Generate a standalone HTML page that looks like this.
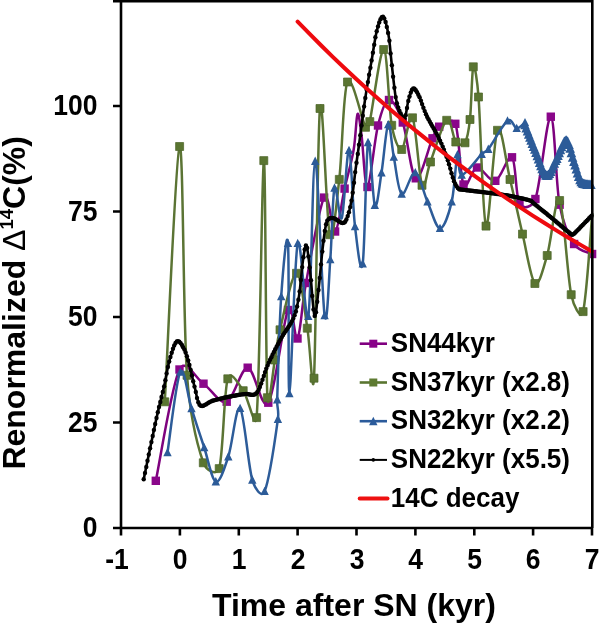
<!DOCTYPE html>
<html><head><meta charset="utf-8"><style>
html,body{margin:0;padding:0;background:#fff;width:600px;height:624px;overflow:hidden}
svg{display:block;filter:blur(0.35px)}
text{font-family:"Liberation Sans",sans-serif;font-weight:bold;fill:#000}
</style></head><body>
<svg width="600" height="624" viewBox="0 0 600 624">
<!-- y tick labels -->
<g font-size="26.5" text-anchor="end">
<text transform="translate(97.5,115) scale(1,1.09)">100</text>
<text transform="translate(97.5,220.5) scale(1,1.09)">75</text>
<text transform="translate(97.5,326) scale(1,1.09)">50</text>
<text transform="translate(97.5,431.5) scale(1,1.09)">25</text>
<text transform="translate(97.5,537) scale(1,1.09)">0</text>
</g>
<!-- x tick labels -->
<g font-size="26.5" text-anchor="middle">
<text transform="translate(117,569) scale(1,1.09)">-1</text>
<text transform="translate(180,569) scale(1,1.09)">0</text>
<text transform="translate(239,569) scale(1,1.09)">1</text>
<text transform="translate(298,569) scale(1,1.09)">2</text>
<text transform="translate(357,569) scale(1,1.09)">3</text>
<text transform="translate(415.5,569) scale(1,1.09)">4</text>
<text transform="translate(474.5,569) scale(1,1.09)">5</text>
<text transform="translate(533,569) scale(1,1.09)">6</text>
<text transform="translate(592,569) scale(1,1.09)">7</text>
</g>
<text x="212" y="616" font-size="32">Time after SN (kyr)</text>
<text transform="translate(25.2,469.6) rotate(-90)" font-size="32">Renormalized <tspan font-weight="normal">&#916;</tspan><tspan font-size="18.5" dy="-12">14</tspan><tspan dy="12">C(%)</tspan></text>

<!-- DATA -->
<g id="data" fill="none" stroke-linejoin="round">
<path stroke="#7e027e" stroke-width="2.5" d="M155.8,480.8 C159.8,462.2 171.6,385.7 179.5,369.5 C185.6,357.0 195.6,378.3 203.5,383.7 C211.4,389.1 219.3,404.4 226.7,401.7 C234.1,399.0 240.8,367.5 247.7,367.7 C254.6,367.9 261.6,412.3 268.3,402.7 C275.0,393.1 283.1,320.7 288.0,310.0 C292.9,299.3 294.5,343.0 297.5,338.5 C300.5,334.0 301.6,306.5 306.0,283.0 C310.4,259.5 319.2,206.2 324.1,197.6 C329.0,189.0 331.7,233.0 335.1,231.5 C338.5,230.0 341.5,202.2 344.6,188.6 C347.7,175.0 351.5,162.4 353.6,150.0 C355.8,137.6 356.2,116.5 357.5,114.0 C358.8,111.5 360.0,124.4 361.5,135.0 C363.2,147.2 364.8,188.6 367.5,187.0 C370.2,185.4 374.4,140.0 378.0,125.5 C381.3,112.0 384.9,100.5 389.0,100.0 C393.1,99.5 398.5,110.0 402.8,122.5 C407.3,135.6 410.9,175.7 415.8,178.3 C420.8,180.9 428.6,146.9 432.5,138.3 C435.3,132.2 435.4,129.1 439.2,126.7 C443.0,124.3 452.1,116.3 455.3,123.8 C459.4,133.4 459.9,177.2 463.5,184.5 C467.1,191.8 471.7,168.1 477.0,167.5 C482.3,166.9 489.5,182.5 495.3,180.8 C501.1,179.1 508.0,153.5 512.0,157.3 C516.0,161.1 515.6,196.6 519.5,203.5 C523.4,210.4 532.6,206.8 535.4,199.0 C540.6,184.5 546.8,115.8 550.8,116.7 C554.8,117.7 555.7,183.5 559.6,204.7 C563.4,225.3 568.7,235.8 574.1,244.0 C579.5,252.2 589.1,252.3 592.1,254.0"/>
<g fill="#8a068a" stroke="none"><rect x="151.6" y="476.6" width="8.4" height="8.4"/><rect x="175.3" y="365.3" width="8.4" height="8.4"/><rect x="199.3" y="379.5" width="8.4" height="8.4"/><rect x="222.5" y="397.5" width="8.4" height="8.4"/><rect x="243.5" y="363.5" width="8.4" height="8.4"/><rect x="264.1" y="398.5" width="8.4" height="8.4"/><rect x="283.8" y="305.8" width="8.4" height="8.4"/><rect x="293.3" y="334.3" width="8.4" height="8.4"/><rect x="301.8" y="278.8" width="8.4" height="8.4"/><rect x="319.9" y="193.4" width="8.4" height="8.4"/><rect x="330.9" y="227.3" width="8.4" height="8.4"/><rect x="340.4" y="184.4" width="8.4" height="8.4"/><rect x="363.3" y="182.8" width="8.4" height="8.4"/><rect x="373.8" y="121.3" width="8.4" height="8.4"/><rect x="384.8" y="95.8" width="8.4" height="8.4"/><rect x="398.6" y="118.3" width="8.4" height="8.4"/><rect x="411.6" y="174.1" width="8.4" height="8.4"/><rect x="428.3" y="134.1" width="8.4" height="8.4"/><rect x="435.0" y="122.5" width="8.4" height="8.4"/><rect x="451.1" y="119.6" width="8.4" height="8.4"/><rect x="459.3" y="180.3" width="8.4" height="8.4"/><rect x="472.8" y="163.3" width="8.4" height="8.4"/><rect x="491.1" y="176.6" width="8.4" height="8.4"/><rect x="507.8" y="153.1" width="8.4" height="8.4"/><rect x="515.3" y="199.3" width="8.4" height="8.4"/><rect x="531.2" y="194.8" width="8.4" height="8.4"/><rect x="546.6" y="112.5" width="8.4" height="8.4"/><rect x="555.4" y="200.5" width="8.4" height="8.4"/><rect x="569.9" y="239.8" width="8.4" height="8.4"/><rect x="587.9" y="249.8" width="8.4" height="8.4"/></g>
<path stroke="#5b7434" stroke-width="2.5" d="M164.8,401.5 C167.3,358.9 175.9,150.6 179.6,146.2 C183.3,141.8 183.1,322.3 187.0,375.0 C190.3,419.4 197.9,446.9 203.3,462.5 C206.1,470.5 216.8,476.4 219.2,468.3 C223.3,454.3 223.8,391.5 227.8,378.5 C230.7,369.2 238.4,383.9 243.2,390.4 C248.0,396.9 255.3,432.3 256.6,417.3 C260.0,379.0 262.0,163.6 263.8,160.3 C265.6,157.0 265.6,364.2 267.4,397.4 C268.5,416.6 272.8,371.0 274.9,359.7 C277.0,348.4 276.4,343.9 280.0,329.5 C283.6,315.1 291.9,273.3 296.5,273.0 C301.1,272.7 304.4,310.4 307.3,327.9 C310.2,345.4 312.5,403.1 314.0,377.9 C316.1,341.3 317.4,132.1 320.0,108.2 C322.6,84.3 326.5,222.6 329.7,234.4 C332.9,246.2 336.3,204.5 339.3,179.1 C342.3,153.7 343.1,90.4 347.5,81.7 C351.9,73.0 361.8,120.4 365.5,127.0 C367.3,130.1 369.0,124.8 369.8,121.3 C372.8,108.3 380.1,48.6 383.7,49.2 C387.3,49.8 388.7,108.3 391.7,125.0 C394.0,137.9 398.2,150.4 401.7,149.2 C405.2,147.9 409.1,111.5 412.5,117.5 C415.9,123.5 419.0,177.6 422.0,185.0 C425.0,192.4 426.4,172.5 430.5,161.7 C434.6,150.9 442.5,123.3 446.7,120.0 C450.9,116.7 452.8,137.9 455.8,141.7 C458.7,145.3 462.6,146.2 465.0,142.5 C467.4,138.8 468.7,131.0 470.0,119.2 C471.4,106.5 471.9,70.2 473.3,66.5 C474.7,62.8 477.3,81.4 478.5,96.7 C480.6,123.2 482.8,220.2 486.0,225.8 C489.2,231.4 493.5,137.8 497.5,130.0 C501.5,122.2 505.8,161.9 510.0,179.2 C514.2,196.5 518.4,216.5 522.5,233.8 C526.6,251.1 530.8,279.6 534.9,283.2 C539.0,286.8 543.1,269.0 547.2,255.2 C551.3,241.4 555.6,193.7 559.6,200.2 C563.6,206.7 567.3,275.9 571.2,294.4 C573.3,304.5 580.5,321.3 583.1,311.3 C586.6,297.7 590.8,229.4 592.3,213.0"/>
<g fill="#5a7531" stroke="#4e6629" stroke-width="0.7"><rect x="160.8" y="397.8" width="8.0" height="8.0"/><rect x="175.6" y="142.5" width="8.0" height="8.0"/><rect x="183.0" y="371.3" width="8.0" height="8.0"/><rect x="199.3" y="458.8" width="8.0" height="8.0"/><rect x="215.2" y="464.6" width="8.0" height="8.0"/><rect x="223.8" y="374.8" width="8.0" height="8.0"/><rect x="239.2" y="386.7" width="8.0" height="8.0"/><rect x="252.6" y="413.6" width="8.0" height="8.0"/><rect x="259.8" y="156.6" width="8.0" height="8.0"/><rect x="263.4" y="393.7" width="8.0" height="8.0"/><rect x="270.9" y="356.0" width="8.0" height="8.0"/><rect x="276.0" y="325.8" width="8.0" height="8.0"/><rect x="292.5" y="269.3" width="8.0" height="8.0"/><rect x="303.3" y="324.2" width="8.0" height="8.0"/><rect x="310.0" y="374.2" width="8.0" height="8.0"/><rect x="316.0" y="104.5" width="8.0" height="8.0"/><rect x="325.7" y="230.7" width="8.0" height="8.0"/><rect x="335.3" y="175.4" width="8.0" height="8.0"/><rect x="343.5" y="78.0" width="8.0" height="8.0"/><rect x="361.5" y="123.3" width="8.0" height="8.0"/><rect x="365.8" y="117.6" width="8.0" height="8.0"/><rect x="379.7" y="45.5" width="8.0" height="8.0"/><rect x="387.7" y="121.3" width="8.0" height="8.0"/><rect x="397.7" y="145.5" width="8.0" height="8.0"/><rect x="408.5" y="113.8" width="8.0" height="8.0"/><rect x="418.0" y="181.3" width="8.0" height="8.0"/><rect x="426.5" y="158.0" width="8.0" height="8.0"/><rect x="442.7" y="116.3" width="8.0" height="8.0"/><rect x="451.8" y="138.0" width="8.0" height="8.0"/><rect x="461.0" y="138.8" width="8.0" height="8.0"/><rect x="466.0" y="115.5" width="8.0" height="8.0"/><rect x="469.3" y="62.8" width="8.0" height="8.0"/><rect x="474.5" y="93.0" width="8.0" height="8.0"/><rect x="482.0" y="222.1" width="8.0" height="8.0"/><rect x="493.5" y="126.3" width="8.0" height="8.0"/><rect x="506.0" y="175.5" width="8.0" height="8.0"/><rect x="518.5" y="230.1" width="8.0" height="8.0"/><rect x="530.9" y="279.5" width="8.0" height="8.0"/><rect x="543.2" y="251.5" width="8.0" height="8.0"/><rect x="555.6" y="196.5" width="8.0" height="8.0"/><rect x="567.2" y="290.7" width="8.0" height="8.0"/><rect x="579.1" y="307.6" width="8.0" height="8.0"/></g>
<path stroke="#2d5c99" stroke-width="2.5" d="M167.5,452.5 C169.6,439.1 176.3,379.3 180.3,372.0 C184.3,364.7 187.5,395.9 191.5,408.5 C195.5,421.1 200.1,435.3 204.2,447.5 C208.2,459.7 211.8,480.2 215.8,481.7 C219.8,483.2 224.2,468.9 228.3,456.7 C232.4,444.5 236.1,404.4 240.1,408.3 C244.1,412.2 248.2,466.1 252.3,479.9 C254.7,487.9 261.3,499.0 264.6,491.3 C268.9,481.2 275.8,434.4 277.9,419.1 C279.2,409.5 276.9,409.4 277.2,399.7 C277.8,379.3 279.4,322.6 281.2,296.5 C283.0,270.4 286.6,227.1 288.0,243.3 C289.4,259.5 287.8,393.5 289.4,393.5 C291.0,393.5 294.5,256.2 297.7,243.3 C300.9,230.4 305.4,330.0 308.3,316.3 C311.2,302.6 312.5,161.2 315.2,161.1 C317.9,160.9 322.1,299.0 324.6,315.4 C327.1,331.8 328.7,280.8 330.3,259.5 C331.9,238.2 332.6,194.8 334.5,187.9 C336.4,181.0 339.4,224.3 341.8,218.0 C344.2,211.7 346.8,148.9 349.0,150.3 C351.2,151.7 352.7,207.5 355.0,226.4 C357.3,245.3 360.5,277.6 362.7,263.6 C364.9,249.6 366.0,152.1 368.0,142.4 C370.0,132.7 372.6,200.1 374.8,205.2 C377.1,210.2 379.3,186.1 381.5,172.7 C383.7,159.2 386.1,127.1 388.2,124.5 C390.2,121.9 391.6,145.4 393.8,157.0 C396.1,168.6 398.1,191.4 401.7,194.0 C405.3,196.6 411.0,171.2 415.3,172.5 C419.6,173.8 423.4,192.4 427.5,201.7 C431.6,211.0 436.0,228.3 440.0,228.3 C444.0,228.3 448.8,214.0 451.7,201.7 C454.6,189.4 455.8,158.9 457.5,154.5 C459.2,150.1 457.7,175.1 461.7,175.0 C465.7,174.9 477.3,158.5 481.7,154.2 C484.7,151.3 485.8,152.5 488.3,149.2 C492.6,143.6 502.8,124.3 507.5,120.8 C512.2,117.3 513.8,128.0 516.7,128.3 C519.6,128.6 523.6,123.5 525.0,122.5"/>
<path stroke="#2d5c99" stroke-width="2.2" d="M525.0,125.0 C526.7,129.2 531.5,141.6 535.0,150.0 C538.5,158.4 542.8,173.7 546.3,175.4 C549.8,177.1 552.7,165.8 556.0,160.0 C559.3,154.2 563.2,140.2 566.2,140.5 C569.2,140.8 571.6,155.2 574.0,162.0 C576.4,168.8 578.5,177.3 580.5,181.0 C582.0,183.8 584.2,183.7 586.0,184.3 C587.8,184.9 590.2,184.7 591.0,184.8"/>
<path fill="#2c5b98" stroke="none" d="M167.5,447.9 L171.7,456.3 L163.3,456.3 Z M180.3,367.4 L184.5,375.8 L176.1,375.8 Z M191.5,403.9 L195.7,412.3 L187.3,412.3 Z M204.2,442.9 L208.4,451.3 L200.0,451.3 Z M215.8,477.1 L220.0,485.5 L211.6,485.5 Z M228.3,452.1 L232.5,460.5 L224.1,460.5 Z M240.1,403.7 L244.3,412.1 L235.9,412.1 Z M252.3,475.3 L256.5,483.7 L248.1,483.7 Z M264.6,486.7 L268.8,495.1 L260.4,495.1 Z M277.9,414.5 L282.1,422.9 L273.7,422.9 Z M277.2,395.1 L281.4,403.5 L273.0,403.5 Z M281.2,291.9 L285.4,300.3 L277.0,300.3 Z M288.0,238.7 L292.2,247.1 L283.8,247.1 Z M289.4,388.9 L293.6,397.3 L285.2,397.3 Z M297.7,238.7 L301.9,247.1 L293.5,247.1 Z M308.3,311.7 L312.5,320.1 L304.1,320.1 Z M315.2,156.5 L319.4,164.9 L311.0,164.9 Z M324.6,310.8 L328.8,319.2 L320.4,319.2 Z M330.3,254.9 L334.5,263.3 L326.1,263.3 Z M334.5,183.3 L338.7,191.7 L330.3,191.7 Z M349.0,145.7 L353.2,154.1 L344.8,154.1 Z M355.0,221.8 L359.2,230.2 L350.8,230.2 Z M362.7,259.0 L366.9,267.4 L358.5,267.4 Z M368.0,137.8 L372.2,146.2 L363.8,146.2 Z M374.8,200.6 L379.0,209.0 L370.6,209.0 Z M381.5,168.1 L385.7,176.5 L377.3,176.5 Z M388.2,119.9 L392.4,128.3 L384.0,128.3 Z M393.8,152.4 L398.0,160.8 L389.6,160.8 Z M401.7,189.4 L405.9,197.8 L397.5,197.8 Z M415.3,167.9 L419.5,176.3 L411.1,176.3 Z M427.5,197.1 L431.7,205.5 L423.3,205.5 Z M440.0,223.7 L444.2,232.1 L435.8,232.1 Z M451.7,197.1 L455.9,205.5 L447.5,205.5 Z M457.5,149.9 L461.7,158.3 L453.3,158.3 Z M461.7,170.4 L465.9,178.8 L457.5,178.8 Z M481.7,149.6 L485.9,158.0 L477.5,158.0 Z M488.3,144.6 L492.5,153.0 L484.1,153.0 Z M507.5,116.2 L511.7,124.6 L503.3,124.6 Z M516.7,123.7 L520.9,132.1 L512.5,132.1 Z M525.0,117.9 L529.2,126.3 L520.8,126.3 Z"/>
<path fill="#2c5b98" stroke="none" d="M525.0,119.7 L529.8,129.3 L520.2,129.3 Z M526.2,122.8 L531.0,132.4 L521.4,132.4 Z M527.5,126.0 L532.3,135.6 L522.7,135.6 Z M528.7,129.1 L533.5,138.7 L523.9,138.7 Z M529.9,132.2 L534.7,141.8 L525.1,141.8 Z M531.1,135.2 L535.9,144.8 L526.3,144.8 Z M532.3,138.3 L537.1,147.9 L527.5,147.9 Z M533.6,141.3 L538.4,150.9 L528.8,150.9 Z M534.8,144.2 L539.6,153.8 L530.0,153.8 Z M536.0,147.3 L540.8,156.9 L531.2,156.9 Z M537.3,150.6 L542.1,160.2 L532.5,160.2 Z M538.5,153.9 L543.3,163.5 L533.7,163.5 Z M539.7,157.3 L544.5,166.9 L534.9,166.9 Z M540.9,160.6 L545.7,170.2 L536.1,170.2 Z M542.1,163.6 L546.9,173.2 L537.3,173.2 Z M543.3,166.2 L548.1,175.8 L538.5,175.8 Z M544.6,168.4 L549.4,178.0 L539.8,178.0 Z M545.8,169.8 L550.6,179.4 L541.0,179.4 Z M547.0,170.3 L551.8,179.9 L542.2,179.9 Z M548.2,169.8 L553.0,179.4 L543.4,179.4 Z M549.4,168.5 L554.2,178.1 L544.6,178.1 Z M550.7,166.4 L555.5,176.0 L545.9,176.0 Z M551.9,163.8 L556.7,173.4 L547.1,173.4 Z M553.1,160.9 L557.9,170.5 L548.3,170.5 Z M554.3,158.1 L559.1,167.7 L549.5,167.7 Z M555.6,155.5 L560.4,165.1 L550.8,165.1 Z M556.8,153.3 L561.6,162.9 L552.0,162.9 Z M558.0,150.5 L562.8,160.1 L553.2,160.1 Z M559.2,147.6 L564.0,157.2 L554.4,157.2 Z M560.4,144.6 L565.2,154.2 L555.6,154.2 Z M561.6,141.7 L566.4,151.3 L556.8,151.3 Z M562.9,139.0 L567.7,148.6 L558.1,148.6 Z M564.1,136.8 L568.9,146.4 L559.3,146.4 Z M565.3,135.5 L570.1,145.1 L560.5,145.1 Z M566.6,135.3 L571.4,144.9 L561.8,144.9 Z M567.8,136.6 L572.6,146.2 L563.0,146.2 Z M569.0,139.4 L573.8,149.0 L564.2,149.0 Z M570.2,143.2 L575.0,152.8 L565.4,152.8 Z M571.4,147.6 L576.2,157.2 L566.6,157.2 Z M572.6,152.2 L577.4,161.8 L567.8,161.8 Z M573.9,156.3 L578.7,165.9 L569.1,165.9 Z M575.1,160.0 L579.9,169.6 L570.3,169.6 Z M576.3,163.9 L581.1,173.5 L571.5,173.5 Z M577.5,167.8 L582.3,177.4 L572.7,177.4 Z M578.7,171.4 L583.5,181.0 L573.9,181.0 Z M580.0,174.6 L584.8,184.2 L575.2,184.2 Z M581.2,176.7 L586.0,186.3 L576.4,186.3 Z M582.4,177.8 L587.2,187.4 L577.6,187.4 Z M583.6,178.4 L588.4,188.0 L578.8,188.0 Z M584.8,178.7 L589.6,188.3 L580.0,188.3 Z M586.0,179.0 L590.8,188.6 L581.2,188.6 Z M587.2,179.3 L592.0,188.9 L582.4,188.9 Z M588.4,179.5 L593.2,189.1 L583.6,189.1 Z M589.7,179.5 L594.5,189.1 L584.9,189.1 Z M590.9,179.5 L595.7,189.1 L586.1,189.1 Z"/>
<path stroke="#000" stroke-width="2.6" d="M143.7,479.2 C145.8,469.0 153.2,433.2 156.5,418.0 C159.8,402.8 161.6,397.3 163.8,387.7 C166.0,378.1 167.3,368.0 169.5,360.3 C171.7,352.6 174.3,343.4 176.7,341.5 C179.1,339.6 181.8,344.7 184.0,348.8 C186.2,352.9 187.9,359.5 189.7,366.0 C191.5,372.5 193.0,381.1 194.8,387.7 C196.6,394.3 197.3,403.3 200.3,405.5 C203.3,407.7 207.9,402.2 212.8,400.7 C217.8,399.2 224.6,397.6 230.0,396.5 C235.4,395.4 240.5,394.7 245.0,394.0 C249.5,393.3 253.3,397.3 257.0,392.5 C260.8,387.6 263.9,373.8 267.8,364.9 C271.7,356.0 276.3,347.0 280.6,339.2 C284.9,331.4 290.4,325.2 293.5,318.0 C296.6,310.8 297.4,305.7 299.0,296.0 C300.6,286.3 301.8,268.4 303.0,260.0 C304.1,252.6 305.2,243.8 306.4,245.5 C307.6,247.2 308.6,258.3 310.0,270.0 C311.4,281.7 313.1,312.2 314.5,315.5 C315.9,318.8 317.1,301.4 318.5,290.0 C319.9,278.6 321.4,258.3 322.8,247.0 C324.2,235.7 325.0,226.8 326.7,222.0 C327.9,218.5 330.2,217.8 333.0,218.0 C335.8,218.2 340.7,223.7 343.3,223.0 C345.9,222.3 347.0,218.2 348.5,213.6 C350.0,209.0 351.1,202.9 352.3,195.6 C353.5,188.3 354.4,178.4 355.5,170.0 C356.6,161.6 357.4,156.7 359.0,145.0 C360.6,133.3 362.9,114.2 365.0,100.0 C367.1,85.8 369.7,71.7 371.7,60.0 C373.7,48.3 375.1,37.2 377.0,30.0 C378.8,22.9 381.1,15.9 383.0,16.7 C384.9,17.5 387.1,27.5 388.5,35.0 C389.9,42.5 390.3,51.5 391.5,62.0 C392.7,72.5 394.4,89.7 395.8,98.0 C397.0,105.2 398.5,108.7 400.0,112.0 C401.5,115.3 403.4,119.9 404.8,117.9 C406.2,115.9 407.1,104.9 408.5,100.0 C409.9,95.1 411.4,89.2 413.2,88.5 C414.9,87.8 416.9,91.8 419.0,96.0 C421.2,100.5 423.3,108.7 426.7,115.8 C430.1,122.9 435.7,131.4 439.2,138.8 C442.7,146.1 445.1,152.7 447.5,159.6 C449.9,166.5 451.9,175.6 453.8,180.4 C455.4,184.8 456.9,187.0 458.3,188.5 C459.6,189.9 460.1,189.3 462.0,189.6 C466.3,190.2 476.3,191.3 484.0,192.3 C491.7,193.3 500.3,194.2 508.0,195.6 C515.7,197.0 525.7,199.2 530.0,200.5 C532.4,201.2 532.0,202.0 534.0,203.6 C537.8,206.7 547.0,214.1 553.0,219.0 C559.0,223.9 566.7,230.7 570.0,233.3 C571.3,234.3 571.7,235.4 573.0,234.5 C575.2,233.1 579.8,227.8 583.0,224.6 C586.2,221.4 590.6,216.8 592.1,215.2"/>
<g fill="#000"><circle cx="143.7" cy="479.2" r="2.2"/><circle cx="145.0" cy="473.0" r="2.2"/><circle cx="146.3" cy="466.9" r="2.2"/><circle cx="147.5" cy="460.7" r="2.2"/><circle cx="148.8" cy="454.5" r="2.2"/><circle cx="150.1" cy="448.3" r="2.2"/><circle cx="151.4" cy="442.1" r="2.2"/><circle cx="152.7" cy="436.0" r="2.2"/><circle cx="153.9" cy="429.9" r="2.2"/><circle cx="155.2" cy="424.0" r="2.2"/><circle cx="156.5" cy="418.0" r="2.2"/><circle cx="157.8" cy="412.3" r="2.2"/><circle cx="159.0" cy="407.0" r="2.2"/><circle cx="160.3" cy="402.0" r="2.2"/><circle cx="161.5" cy="397.0" r="2.2"/><circle cx="162.8" cy="391.9" r="2.2"/><circle cx="164.1" cy="386.4" r="2.2"/><circle cx="165.4" cy="380.2" r="2.2"/><circle cx="166.6" cy="373.4" r="2.2"/><circle cx="167.9" cy="367.0" r="2.2"/><circle cx="169.2" cy="361.6" r="2.2"/><circle cx="170.4" cy="357.0" r="2.2"/><circle cx="171.7" cy="352.7" r="2.2"/><circle cx="173.0" cy="348.8" r="2.2"/><circle cx="174.2" cy="345.5" r="2.2"/><circle cx="175.5" cy="343.0" r="2.2"/><circle cx="176.8" cy="341.4" r="2.2"/><circle cx="178.0" cy="341.1" r="2.2"/><circle cx="179.3" cy="341.7" r="2.2"/><circle cx="180.6" cy="343.1" r="2.2"/><circle cx="181.9" cy="344.9" r="2.2"/><circle cx="183.1" cy="347.2" r="2.2"/><circle cx="184.4" cy="349.6" r="2.2"/><circle cx="185.6" cy="352.5" r="2.2"/><circle cx="186.9" cy="356.2" r="2.2"/><circle cx="188.2" cy="360.5" r="2.2"/><circle cx="189.4" cy="365.0" r="2.2"/><circle cx="190.7" cy="369.9" r="2.2"/><circle cx="192.0" cy="375.4" r="2.2"/><circle cx="193.2" cy="381.2" r="2.2"/><circle cx="194.5" cy="386.6" r="2.2"/><circle cx="195.8" cy="391.9" r="2.2"/><circle cx="197.0" cy="398.0" r="2.2"/><circle cx="198.3" cy="402.3" r="2.2"/><circle cx="199.5" cy="404.8" r="2.2"/><circle cx="200.8" cy="405.8" r="2.2"/><circle cx="202.1" cy="406.0" r="2.2"/><circle cx="203.3" cy="405.7" r="2.2"/><circle cx="204.6" cy="405.1" r="2.2"/><circle cx="205.9" cy="404.4" r="2.2"/><circle cx="207.2" cy="403.6" r="2.2"/><circle cx="208.5" cy="402.8" r="2.2"/><circle cx="209.7" cy="402.1" r="2.2"/><circle cx="211.0" cy="401.4" r="2.2"/><circle cx="212.4" cy="400.8" r="2.2"/><circle cx="213.6" cy="400.5" r="2.2"/><circle cx="214.9" cy="400.1" r="2.2"/><circle cx="216.2" cy="399.7" r="2.2"/><circle cx="217.5" cy="399.4" r="2.2"/><circle cx="218.8" cy="399.1" r="2.2"/><circle cx="220.2" cy="398.7" r="2.2"/><circle cx="221.4" cy="398.4" r="2.2"/><circle cx="222.7" cy="398.1" r="2.2"/><circle cx="224.0" cy="397.8" r="2.2"/><circle cx="225.2" cy="397.5" r="2.2"/><circle cx="226.5" cy="397.2" r="2.2"/><circle cx="227.8" cy="397.0" r="2.2"/><circle cx="229.1" cy="396.7" r="2.2"/><circle cx="230.4" cy="396.4" r="2.2"/><circle cx="231.7" cy="396.2" r="2.2"/><circle cx="233.0" cy="395.9" r="2.2"/><circle cx="234.2" cy="395.7" r="2.2"/><circle cx="235.5" cy="395.5" r="2.2"/><circle cx="236.8" cy="395.2" r="2.2"/><circle cx="238.1" cy="395.0" r="2.2"/><circle cx="239.4" cy="394.8" r="2.2"/><circle cx="240.7" cy="394.6" r="2.2"/><circle cx="242.0" cy="394.4" r="2.2"/><circle cx="243.3" cy="394.3" r="2.2"/><circle cx="244.6" cy="394.1" r="2.2"/><circle cx="245.9" cy="393.9" r="2.2"/><circle cx="247.2" cy="394.0" r="2.2"/><circle cx="248.4" cy="394.2" r="2.2"/><circle cx="249.7" cy="394.5" r="2.2"/><circle cx="251.0" cy="394.7" r="2.2"/><circle cx="252.3" cy="394.9" r="2.2"/><circle cx="253.6" cy="394.8" r="2.2"/><circle cx="254.8" cy="394.4" r="2.2"/><circle cx="256.1" cy="393.5" r="2.2"/><circle cx="257.4" cy="392.0" r="2.2"/><circle cx="258.7" cy="389.8" r="2.2"/><circle cx="259.9" cy="386.9" r="2.2"/><circle cx="261.2" cy="383.5" r="2.2"/><circle cx="262.5" cy="379.7" r="2.2"/><circle cx="263.8" cy="375.9" r="2.2"/><circle cx="265.0" cy="372.1" r="2.2"/><circle cx="266.3" cy="368.6" r="2.2"/><circle cx="267.6" cy="365.4" r="2.2"/><circle cx="268.8" cy="362.6" r="2.2"/><circle cx="270.1" cy="359.8" r="2.2"/><circle cx="271.4" cy="357.2" r="2.2"/><circle cx="272.6" cy="354.5" r="2.2"/><circle cx="273.9" cy="351.9" r="2.2"/><circle cx="275.2" cy="349.3" r="2.2"/><circle cx="276.6" cy="346.8" r="2.2"/><circle cx="277.9" cy="344.3" r="2.2"/><circle cx="279.2" cy="341.8" r="2.2"/><circle cx="280.5" cy="339.4" r="2.2"/><circle cx="281.8" cy="337.1" r="2.2"/><circle cx="283.1" cy="335.0" r="2.2"/><circle cx="284.3" cy="333.1" r="2.2"/><circle cx="285.6" cy="331.2" r="2.2"/><circle cx="286.9" cy="329.3" r="2.2"/><circle cx="288.2" cy="327.3" r="2.2"/><circle cx="289.5" cy="325.4" r="2.2"/><circle cx="290.7" cy="323.4" r="2.2"/><circle cx="292.0" cy="321.1" r="2.2"/><circle cx="293.3" cy="318.4" r="2.2"/><circle cx="294.6" cy="315.3" r="2.2"/><circle cx="295.9" cy="311.5" r="2.2"/><circle cx="297.1" cy="306.5" r="2.2"/><circle cx="298.4" cy="299.7" r="2.2"/><circle cx="299.6" cy="291.5" r="2.2"/><circle cx="300.9" cy="280.0" r="2.2"/><circle cx="302.2" cy="267.1" r="2.2"/><circle cx="303.4" cy="257.2" r="2.2"/><circle cx="304.7" cy="249.4" r="2.2"/><circle cx="305.9" cy="245.4" r="2.2"/><circle cx="307.2" cy="248.0" r="2.2"/><circle cx="308.4" cy="256.4" r="2.2"/><circle cx="309.7" cy="267.4" r="2.2"/><circle cx="311.0" cy="280.2" r="2.2"/><circle cx="312.2" cy="295.9" r="2.2"/><circle cx="313.5" cy="309.4" r="2.2"/><circle cx="314.7" cy="315.9" r="2.2"/><circle cx="316.0" cy="312.2" r="2.2"/><circle cx="317.2" cy="301.7" r="2.2"/><circle cx="318.5" cy="290.0" r="2.2"/><circle cx="319.8" cy="278.0" r="2.2"/><circle cx="321.0" cy="264.4" r="2.2"/><circle cx="322.3" cy="251.6" r="2.2"/><circle cx="323.5" cy="240.8" r="2.2"/><circle cx="324.8" cy="230.9" r="2.2"/><circle cx="326.1" cy="224.2" r="2.2"/><circle cx="327.3" cy="220.6" r="2.2"/><circle cx="328.6" cy="219.1" r="2.2"/><circle cx="329.9" cy="218.3" r="2.2"/><circle cx="331.1" cy="218.0" r="2.2"/><circle cx="332.4" cy="218.0" r="2.2"/><circle cx="333.7" cy="218.1" r="2.2"/><circle cx="334.9" cy="218.7" r="2.2"/><circle cx="336.2" cy="219.5" r="2.2"/><circle cx="337.5" cy="220.4" r="2.2"/><circle cx="338.8" cy="221.2" r="2.2"/><circle cx="340.1" cy="222.1" r="2.2"/><circle cx="341.4" cy="222.7" r="2.2"/><circle cx="342.6" cy="223.1" r="2.2"/><circle cx="343.9" cy="222.8" r="2.2"/><circle cx="345.2" cy="221.7" r="2.2"/><circle cx="346.4" cy="219.5" r="2.2"/><circle cx="347.7" cy="216.1" r="2.2"/><circle cx="348.9" cy="212.2" r="2.2"/><circle cx="350.2" cy="207.1" r="2.2"/><circle cx="351.5" cy="200.6" r="2.2"/><circle cx="352.7" cy="192.8" r="2.2"/><circle cx="354.0" cy="182.7" r="2.2"/><circle cx="355.2" cy="172.1" r="2.2"/><circle cx="356.5" cy="162.8" r="2.2"/><circle cx="357.8" cy="154.0" r="2.2"/><circle cx="359.0" cy="144.8" r="2.2"/><circle cx="360.3" cy="135.3" r="2.2"/><circle cx="361.6" cy="125.4" r="2.2"/><circle cx="362.8" cy="115.7" r="2.2"/><circle cx="364.1" cy="106.4" r="2.2"/><circle cx="365.3" cy="97.9" r="2.2"/><circle cx="366.6" cy="89.8" r="2.2"/><circle cx="367.9" cy="82.1" r="2.2"/><circle cx="369.1" cy="74.8" r="2.2"/><circle cx="370.4" cy="67.7" r="2.2"/><circle cx="371.6" cy="60.4" r="2.2"/><circle cx="372.9" cy="52.8" r="2.2"/><circle cx="374.2" cy="44.7" r="2.2"/><circle cx="375.4" cy="37.3" r="2.2"/><circle cx="376.7" cy="31.2" r="2.2"/><circle cx="378.0" cy="26.4" r="2.2"/><circle cx="379.2" cy="22.4" r="2.2"/><circle cx="380.5" cy="19.2" r="2.2"/><circle cx="381.8" cy="17.1" r="2.2"/><circle cx="383.0" cy="16.7" r="2.2"/><circle cx="384.3" cy="18.4" r="2.2"/><circle cx="385.6" cy="22.0" r="2.2"/><circle cx="386.8" cy="26.9" r="2.2"/><circle cx="388.1" cy="32.9" r="2.2"/><circle cx="389.4" cy="40.7" r="2.2"/><circle cx="390.6" cy="53.4" r="2.2"/><circle cx="391.9" cy="65.3" r="2.2"/><circle cx="393.1" cy="76.8" r="2.2"/><circle cx="394.4" cy="87.8" r="2.2"/><circle cx="395.7" cy="97.1" r="2.2"/><circle cx="396.9" cy="103.3" r="2.2"/><circle cx="398.2" cy="107.5" r="2.2"/><circle cx="399.4" cy="110.7" r="2.2"/><circle cx="400.7" cy="113.5" r="2.2"/><circle cx="401.9" cy="116.1" r="2.2"/><circle cx="403.2" cy="117.9" r="2.2"/><circle cx="404.5" cy="118.2" r="2.2"/><circle cx="405.7" cy="115.2" r="2.2"/><circle cx="407.0" cy="108.0" r="2.2"/><circle cx="408.3" cy="100.9" r="2.2"/><circle cx="409.5" cy="96.5" r="2.2"/><circle cx="410.8" cy="92.5" r="2.2"/><circle cx="412.0" cy="89.7" r="2.2"/><circle cx="413.3" cy="88.5" r="2.2"/><circle cx="414.5" cy="88.8" r="2.2"/><circle cx="415.8" cy="90.2" r="2.2"/><circle cx="417.1" cy="92.3" r="2.2"/><circle cx="418.3" cy="94.7" r="2.2"/><circle cx="419.6" cy="97.3" r="2.2"/><circle cx="420.9" cy="100.6" r="2.2"/><circle cx="422.1" cy="104.1" r="2.2"/><circle cx="423.4" cy="107.7" r="2.2"/><circle cx="424.7" cy="111.1" r="2.2"/><circle cx="426.0" cy="114.2" r="2.2"/><circle cx="427.2" cy="116.9" r="2.2"/><circle cx="428.5" cy="119.3" r="2.2"/><circle cx="429.8" cy="121.7" r="2.2"/><circle cx="431.1" cy="124.0" r="2.2"/><circle cx="432.4" cy="126.3" r="2.2"/><circle cx="433.7" cy="128.5" r="2.2"/><circle cx="434.9" cy="130.7" r="2.2"/><circle cx="436.3" cy="133.1" r="2.2"/><circle cx="437.6" cy="135.5" r="2.2"/><circle cx="438.8" cy="138.0" r="2.2"/><circle cx="440.1" cy="140.7" r="2.2"/><circle cx="441.4" cy="143.6" r="2.2"/><circle cx="442.7" cy="146.6" r="2.2"/><circle cx="443.9" cy="149.8" r="2.2"/><circle cx="445.2" cy="153.2" r="2.2"/><circle cx="446.5" cy="156.7" r="2.2"/><circle cx="447.8" cy="160.3" r="2.2"/><circle cx="449.0" cy="164.3" r="2.2"/><circle cx="450.3" cy="168.6" r="2.2"/><circle cx="451.5" cy="173.2" r="2.2"/><circle cx="452.8" cy="177.5" r="2.2"/><circle cx="454.0" cy="181.2" r="2.2"/><circle cx="455.3" cy="184.0" r="2.2"/><circle cx="456.6" cy="186.2" r="2.2"/><circle cx="457.8" cy="188.0" r="2.2"/><circle cx="459.1" cy="189.2" r="2.2"/><circle cx="460.3" cy="189.5" r="2.2"/><circle cx="461.6" cy="189.6" r="2.2"/><circle cx="462.9" cy="189.7" r="2.2"/><circle cx="464.2" cy="189.9" r="2.2"/><circle cx="465.5" cy="190.1" r="2.2"/><circle cx="466.8" cy="190.2" r="2.2"/><circle cx="468.0" cy="190.4" r="2.2"/><circle cx="469.4" cy="190.5" r="2.2"/><circle cx="470.7" cy="190.7" r="2.2"/><circle cx="472.0" cy="190.8" r="2.2"/><circle cx="473.3" cy="191.0" r="2.2"/><circle cx="474.7" cy="191.2" r="2.2"/><circle cx="476.0" cy="191.3" r="2.2"/><circle cx="477.3" cy="191.5" r="2.2"/><circle cx="478.6" cy="191.6" r="2.2"/><circle cx="479.9" cy="191.8" r="2.2"/><circle cx="481.3" cy="192.0" r="2.2"/><circle cx="482.6" cy="192.1" r="2.2"/><circle cx="483.9" cy="192.3" r="2.2"/><circle cx="485.2" cy="192.4" r="2.2"/><circle cx="486.4" cy="192.6" r="2.2"/><circle cx="487.7" cy="192.8" r="2.2"/><circle cx="489.1" cy="192.9" r="2.2"/><circle cx="490.4" cy="193.1" r="2.2"/><circle cx="491.7" cy="193.3" r="2.2"/><circle cx="493.1" cy="193.4" r="2.2"/><circle cx="494.4" cy="193.6" r="2.2"/><circle cx="495.8" cy="193.8" r="2.2"/><circle cx="497.1" cy="194.0" r="2.2"/><circle cx="498.4" cy="194.1" r="2.2"/><circle cx="499.8" cy="194.3" r="2.2"/><circle cx="501.1" cy="194.5" r="2.2"/><circle cx="502.5" cy="194.7" r="2.2"/><circle cx="503.8" cy="194.9" r="2.2"/><circle cx="505.1" cy="195.1" r="2.2"/><circle cx="506.4" cy="195.3" r="2.2"/><circle cx="507.7" cy="195.5" r="2.2"/><circle cx="508.9" cy="195.8" r="2.2"/><circle cx="510.2" cy="196.0" r="2.2"/><circle cx="511.6" cy="196.3" r="2.2"/><circle cx="512.9" cy="196.5" r="2.2"/><circle cx="514.3" cy="196.8" r="2.2"/><circle cx="515.6" cy="197.1" r="2.2"/><circle cx="516.9" cy="197.3" r="2.2"/><circle cx="518.3" cy="197.6" r="2.2"/><circle cx="519.6" cy="197.9" r="2.2"/><circle cx="521.0" cy="198.2" r="2.2"/><circle cx="522.2" cy="198.5" r="2.2"/><circle cx="523.6" cy="198.8" r="2.2"/><circle cx="524.9" cy="199.1" r="2.2"/><circle cx="526.2" cy="199.5" r="2.2"/><circle cx="527.5" cy="199.8" r="2.2"/><circle cx="528.8" cy="200.1" r="2.2"/><circle cx="530.0" cy="200.5" r="2.2"/><circle cx="531.3" cy="201.0" r="2.2"/><circle cx="532.6" cy="202.2" r="2.2"/><circle cx="533.8" cy="203.5" r="2.2"/><circle cx="535.1" cy="204.5" r="2.2"/><circle cx="536.4" cy="205.5" r="2.2"/><circle cx="537.7" cy="206.5" r="2.2"/><circle cx="538.9" cy="207.6" r="2.2"/><circle cx="540.2" cy="208.6" r="2.2"/><circle cx="541.5" cy="209.7" r="2.2"/><circle cx="542.8" cy="210.7" r="2.2"/><circle cx="544.1" cy="211.7" r="2.2"/><circle cx="545.4" cy="212.8" r="2.2"/><circle cx="546.7" cy="213.8" r="2.2"/><circle cx="547.9" cy="214.9" r="2.2"/><circle cx="549.2" cy="215.9" r="2.2"/><circle cx="550.5" cy="217.0" r="2.2"/><circle cx="551.8" cy="218.0" r="2.2"/><circle cx="553.1" cy="219.1" r="2.2"/><circle cx="554.4" cy="220.1" r="2.2"/><circle cx="555.7" cy="221.2" r="2.2"/><circle cx="557.0" cy="222.4" r="2.2"/><circle cx="558.3" cy="223.5" r="2.2"/><circle cx="559.6" cy="224.5" r="2.2"/><circle cx="560.9" cy="225.7" r="2.2"/><circle cx="562.2" cy="226.8" r="2.2"/><circle cx="563.5" cy="227.9" r="2.2"/><circle cx="564.8" cy="229.0" r="2.2"/><circle cx="566.2" cy="230.1" r="2.2"/><circle cx="567.5" cy="231.2" r="2.2"/><circle cx="568.8" cy="232.3" r="2.2"/><circle cx="570.0" cy="233.3" r="2.2"/><circle cx="571.3" cy="234.5" r="2.2"/><circle cx="572.5" cy="234.7" r="2.2"/><circle cx="573.8" cy="233.9" r="2.2"/><circle cx="575.1" cy="232.7" r="2.2"/><circle cx="576.3" cy="231.5" r="2.2"/><circle cx="577.6" cy="230.2" r="2.2"/><circle cx="578.9" cy="228.9" r="2.2"/><circle cx="580.2" cy="227.5" r="2.2"/><circle cx="581.4" cy="226.2" r="2.2"/><circle cx="582.7" cy="224.9" r="2.2"/><circle cx="584.0" cy="223.6" r="2.2"/><circle cx="585.3" cy="222.3" r="2.2"/><circle cx="586.6" cy="221.0" r="2.2"/><circle cx="587.8" cy="219.7" r="2.2"/><circle cx="589.1" cy="218.3" r="2.2"/><circle cx="590.4" cy="217.0" r="2.2"/><circle cx="591.6" cy="215.7" r="2.2"/></g>
<path stroke="#ee0a0f" stroke-width="4" stroke-linecap="round" d="M297.6,21.6 L309.4,33.7 L321.2,45.5 L333.0,57.1 L344.7,68.3 L356.5,79.3 L368.3,90.0 L380.1,100.5 L391.8,110.7 L403.6,120.7 L415.4,130.4 L427.2,139.9 L438.9,149.2 L450.7,158.3 L462.5,167.1 L474.2,175.7 L486.0,184.1 L497.8,192.4 L509.6,200.4 L521.3,208.2 L533.1,215.9 L544.9,223.3 L556.7,230.6 L568.5,237.7 L580.2,244.6 L592.0,251.4"/>
</g>
<!-- /DATA -->
<!-- frame -->
<g stroke="#000" stroke-width="2.6" fill="none">
<path d="M113,1.2 H592.3 V528 M121,-2 V535.5 M113,106 H121 M113,211.5 H121 M113,317 H121 M113,422.5 H121 M113,528 H592.3"/>
<path d="M179.9,528 V535.5 M238.8,528 V535.5 M297.6,528 V535.5 M356.5,528 V535.5 M415.4,528 V535.5 M474.3,528 V535.5 M533.1,528 V535.5 M592,528 V535.5"/>
</g>


<!-- legend -->
<g font-size="26">
<text transform="translate(390.8,351.7) scale(1,1.09)">SN44kyr</text>
<text transform="translate(390.8,390.5) scale(1,1.09)">SN37kyr (x2.8)</text>
<text transform="translate(390.8,429.2) scale(1,1.09)">SN32kyr (x2.2)</text>
<text transform="translate(390.8,467.9) scale(1,1.09)">SN22kyr (x5.5)</text>
<text transform="translate(390.8,506.6) scale(1,1.09)">14C decay</text>
</g>
<g>
<path d="M359.7,343.7 H387" stroke="#800080" stroke-width="2.6"/>
<rect x="369.3" y="339.7" width="8" height="8" fill="#880088"/>
<path d="M359.7,382.5 H387" stroke="#5a7530" stroke-width="2.6"/>
<rect x="369.3" y="378.5" width="8" height="8" fill="#5e7b32"/>
<path d="M359.7,421.2 H387" stroke="#2b5b9b" stroke-width="2.6"/>
<path d="M373.3,416.8 L377.5,425.3 L369.1,425.3 Z" fill="#2b5b9b"/>
<path d="M359.7,459.9 H387" stroke="#000" stroke-width="2"/>
<circle cx="373.3" cy="459.9" r="1.8" fill="#000"/>
<path d="M359.7,498.6 H387.5" stroke="#ee1111" stroke-width="4" stroke-linecap="round"/>
</g>
</svg>
</body></html>
